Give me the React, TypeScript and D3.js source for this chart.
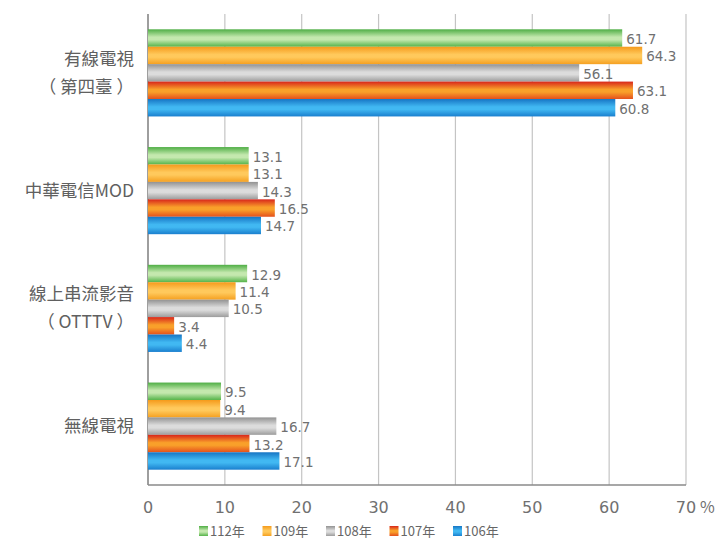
import { scaleBand, scaleLinear } from 'd3';

const categories = ['有線電視\n（ 第四臺 ）', '中華電信MOD', '線上串流影音\n（ OTTTV ）', '無線電視'];
const seriesNames = ['112年', '109年', '108年', '107年', '106年'];
const values112 = [61.7, 13.1, 12.9, 9.5];
const values109 = [64.3, 13.1, 11.4, 9.4];
const values108 = [56.1, 14.3, 10.5, 16.7];
const values107 = [63.1, 16.5, 3.4, 13.2];
const values106 = [60.8, 14.7, 4.4, 17.1];
const xTicks = [0, 10, 20, 30, 40, 50, 60, 70];

const seriesValues = [values112, values109, values108, values107, values106];

// edge / center / bottom colours for the cylinder look
const gradients = [
  ['#4fae45', '#c4e8ae', '#55b34a'],
  ['#f59a1b', '#ffc95c', '#f5a020'],
  ['#929292', '#dcdcdc', '#9c9c9c'],
  ['#d8261b', '#f9a02a', '#e4501c'],
  ['#1675c4', '#41b8f2', '#1a7fce'],
];

const W = 715;
const H = 543;
const left = 148;
const right = 686;
const top = 14;
const bottom = 485;
const font = '"Noto Sans CJK TC", "Noto Sans", sans-serif';
const numFont = '"DejaVu Sans", Verdana, sans-serif';

export default function App() {
  const x = scaleLinear().domain([0, 70]).range([left, right]);
  const y = scaleBand().domain(categories).range([top, bottom]).paddingInner(0.26).paddingOuter(0.13);
  const inner = scaleBand().domain(seriesNames).range([0, y.bandwidth()]);

  return (
    <div style={{ position: 'fixed', left: 0, top: 0 }}>
      <svg width={W} height={H} style={{ display: 'block', background: '#fff' }}>
        <defs>
          {gradients.map((g, i) => (
            <linearGradient key={i} id={`g${i}`} x1="0" y1="0" x2="0" y2="1">
              <stop offset="0" stopColor={g[0]} />
              <stop offset="0.45" stopColor={g[1]} />
              <stop offset="0.6" stopColor={g[1]} />
              <stop offset="1" stopColor={g[2]} />
            </linearGradient>
          ))}
        </defs>

        {xTicks.map((t) => (
          <line key={t} x1={x(t)} x2={x(t)} y1={top} y2={bottom} stroke="#c4c4c4" strokeWidth={1.2} />
        ))}
        <line x1={left} x2={left} y1={top} y2={bottom} stroke="#8a8a8a" strokeWidth={1.5} />
        <line x1={left} x2={right} y1={bottom} y2={bottom} stroke="#8a8a8a" strokeWidth={1.5} />

        {categories.map((c, ci) => (
          <g key={c}>
            {seriesNames.map((s, si) => {
              const v = seriesValues[si][ci];
              const by = (y(c) as number) + (inner(s) as number);
              return (
                <g key={s}>
                  <rect x={x(0)} y={by} width={x(v) - x(0)} height={inner.bandwidth()} fill={`url(#g${si})`} />
                  <text
                    x={x(v) + 4}
                    y={by + inner.bandwidth() / 2 + 6}
                    fontSize={13.5}
                    fill="#707070"
                    fontFamily={numFont}
                  >
                    {v.toFixed(1)}
                  </text>
                </g>
              );
            })}
            {(() => {
              const lines = c.split('\n');
              const cy = (y(c) as number) + y.bandwidth() / 2;
              return lines.map((ln, li) => (
                <text
                  key={li}
                  x={134}
                  y={cy + 6 + (li - (lines.length - 1) / 2) * 28}
                  textAnchor="end"
                  fontSize={17.5}
                  fill="#606060"
                  fontFamily={font}
                >
                  {ln}
                </text>
              ));
            })()}
          </g>
        ))}

        {xTicks.map((t) => (
          <text key={t} x={x(t)} y={513} textAnchor="middle" fontSize={16} fill="#707070" fontFamily={numFont}>
            {t}
          </text>
        ))}
        <text x={x(70) + 14} y={513} fontSize={16} fill="#707070" fontFamily={font}>
          %
        </text>

        {seriesNames.map((s, i) => (
          <g key={s} transform={`translate(${199 + i * 63.5}, 526)`}>
            <rect x={0} y={0} width={9} height={10} fill={`url(#g${i})`} />
            <text x={11} y={10} fontSize={13} fill="#666" fontFamily={font}>
              {s}
            </text>
          </g>
        ))}
      </svg>
    </div>
  );
}
